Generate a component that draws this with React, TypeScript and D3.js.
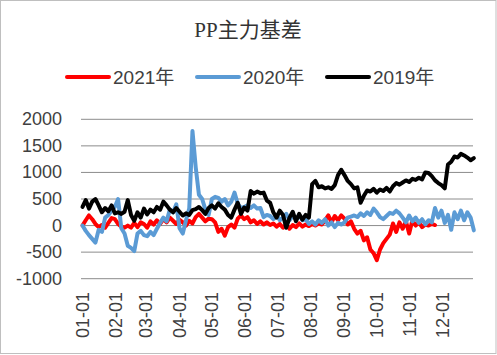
import React from "react";
import * as d3 from "d3";

const TITLE = "PP主力基差";
const SERIES_NAMES = ["2021年", "2020年", "2019年"];
const SERIES_COLORS = ["#FF0000", "#5B9BD5", "#000000"];
const MONTH_TICKS = ["01-01", "02-01", "03-01", "04-01", "05-01", "06-01", "07-01", "08-01", "09-01", "10-01", "11-01", "12-01"];
const MONTH_START_DAYS = [0, 31, 59, 90, 120, 151, 181, 212, 243, 273, 304, 334];
const Y_TICKS = [-1000, -500, 0, 500, 1000, 1500, 2000];
const SAMPLE_STEP_DAYS = 3;

// 2021 basis (every 3 days, ends late October)
const basis2021 = [
  0, 100, 190, 120, 30, -30, 10, -40, 50, 140, 120, 30, -20, -40, 0, -40, 50, -30, 60, 30,
  -40, 80, 20, 100, 30, 120, 60, 150, 90, 30, 110, 60, 0, 90, 40, 160, 220, 150, 80, 130,
  120, 60, -120, -60, -190, -30, 20, -40, 130, 190, 120, 160, 60, 100, 30, 80, 20, 60, 10, 40,
  -20, 30, -40, 20, -60, 10, -30, 40, -20, 20, -10, 30, 0, 40, 20, 100, 190, 60, 180, 100,
  190, 130, 20, 80, -60, -150, -100, -280, -220, -450, -520, -650, -450, -330, -250, -170, 40, -120, 60, -60,
  80, -150, 100, 0, 60, -30, 20, 0, 30, 10,
];

// 2020 basis (every 3 days)
const basis2020 = [
  0, -100, -180, -250, -320, -80, -120, 150, 200, 280, 350, 500, -50, -150, -380, -420, -480, -150, -100, -180,
  -200, -120, -180, -60, 50, 150, 80, 300, 250, 400, -50, -150, 100, 320, 1780, 1100, 580, 500, 300, 200,
  500, 540, 520, 450, 500, 380, 450, 620, 410, 330, 350, 380, 330, 380, 320, 330, 160, 200, 180, 120,
  200, 100, 150, 220, 100, 180, 130, 200, 100, 120, 30, 80, 20, 100, 50, 120, 0, 60, -30, 50,
  20, 60, 150, 170, 190, 160, 230, 180, 250, 200, 320, 250, 160, 120, 180, 240, 220, 280, 230, 150,
  60, 190, 80, 150, 50, 120, 20, 100, 60, 330, 150, 280, 50, 200, -80, 250, 120, 280, 100, 250,
  150, -90,
];

// 2019 basis (every 3 days)
const basis2019 = [
  350, 480, 320, 450, 500, 380, 250, 330, 270, 380, 230, 250, 220, 260, 480, 200, 90, 250, 150, 320,
  210, 300, 250, 350, 300, 450, 380, 300, 250, 330, 260, 190, 230, 200, 290, 310, 350, 290, 220, 330,
  380, 320, 420, 350, 300, 200, 150, 300, 430, 220, 340, 280, 650, 600, 640, 610, 620, 470, 430, 250,
  150, 280, 200, -40, 150, 260, 80, 220, 110, 200, 150, 780, 840, 720, 740, 700, 720, 690, 760, 950,
  1050, 950, 840, 780, 700, 720, 430, 560, 660, 640, 690, 620, 680, 650, 710, 640, 740, 800, 770, 810,
  850, 820, 880, 860, 900, 870, 1000, 990, 930, 850, 800, 760, 700, 1150, 1200, 1300, 1280, 1350, 1320, 1280,
  1230, 1270,
];

const SERIES_VALUES = [basis2021, basis2020, basis2019];

export default function App() {
  const W = 497;
  const H = 355;
  const x = d3.scaleLinear().domain([0, 365]).range([82.5, 476]);
  const y = d3.scaleLinear().domain([-1000, 2000]).range([278.7, 119.3]);
  const plotLeft = 81;
  const plotRight = 473;

  const line = d3
    .line<number>()
    .x((_, i) => x(i * SAMPLE_STEP_DAYS))
    .y((d) => y(d))
    .curve(d3.curveLinear);

  const legendX = [67, 197, 327];
  const legendY = 77;
  const fontSans = "'Liberation Sans', Arial, sans-serif";

  return (
    <svg
      width={W}
      height={H}
      style={{ position: "absolute", left: 0, top: 0, background: "#fff" }}
    >
      <rect x={0} y={0} width={W} height={H} fill="#fff" />
      <rect x={0.5} y={0.5} width={495.5} height={353} fill="none" stroke="#bfbfbf" strokeWidth={1} />
      <text
        x={248}
        y={37}
        textAnchor="middle"
        fontSize={21}
        fill="#333"
        fontFamily="'Liberation Serif', 'Times New Roman', 'Noto Sans CJK SC', serif"
      >
        {TITLE}
      </text>
      {SERIES_NAMES.map((name, k) => (
        <g key={name}>
          <line
            x1={legendX[k]}
            x2={legendX[k] + 42}
            y1={legendY}
            y2={legendY}
            stroke={SERIES_COLORS[k]}
            strokeWidth={4}
            strokeLinecap="round"
          />
          <text
            x={legendX[k] + 46}
            y={83.5}
            fontSize={19}
            fill="#404040"
            fontFamily={`${fontSans}, 'Noto Sans CJK SC'`}
          >
            {name}
          </text>
        </g>
      ))}
      {Y_TICKS.map((t) => (
        <g key={t}>
          <line x1={plotLeft} x2={plotRight} y1={y(t)} y2={y(t)} stroke="#8c8c8c" strokeWidth={1} />
          <text
            x={62}
            y={y(t)}
            textAnchor="end"
            dominantBaseline="central"
            fontSize={18}
            fill="#404040"
            fontFamily={fontSans}
          >
            {t}
          </text>
        </g>
      ))}
      {MONTH_TICKS.map((lab, k) => (
        <text
          key={lab}
          transform={`translate(${x(MONTH_START_DAYS[k])},292) rotate(-90)`}
          textAnchor="end"
          dominantBaseline="central"
          fontSize={18}
          fill="#404040"
          fontFamily={fontSans}
        >
          {lab}
        </text>
      ))}
      {SERIES_VALUES.map((vals, k) => (
        <path
          key={k}
          d={line(vals) || ""}
          fill="none"
          stroke={SERIES_COLORS[k]}
          strokeWidth={4}
          strokeLinejoin="round"
          strokeLinecap="round"
        />
      ))}
    </svg>
  );
}
